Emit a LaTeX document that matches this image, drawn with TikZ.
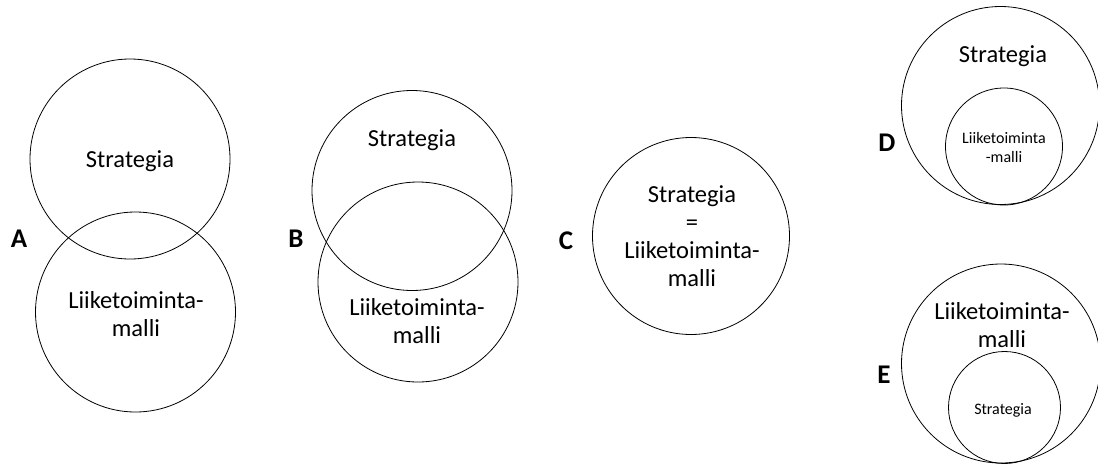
\documentclass[tikz,border=0pt]{standalone}
\usepackage{fontspec}
\setmainfont{Carlito}
\begin{document}
\begin{tikzpicture}[x=1pt,y=-1pt,
  ring/.style={circle, draw=black, line width=0.8pt, inner sep=0pt, minimum size=#1},
  big/.style={font=\fontsize{24.5}{28}\selectfont, align=center, inner sep=0pt},
  small/.style={font=\fontsize{16}{19}\selectfont, align=center, inner sep=0pt},
  tag/.style={font=\fontsize{27}{30}\selectfont\bfseries, inner sep=0pt}]
\useasboundingbox (0,0) rectangle (1098,464);

% A: two circles overlapping slightly
\node[ring=200pt] (a1) at (130,159) {};
\node[ring=200pt] (a2) at (135.5,312) {};
\node[big] (a1t) at (130,161) {Strategia};
\node[big] (a2t) at (136,314) {Liiketoiminta-\\malli};
\node[tag] (la) at (19,239) {A};

% B: two circles overlapping strongly
\node[ring=200pt] (b1) at (412,190.5) {};
\node[ring=200pt] (b2) at (418,282) {};
\node[big] (b1t) at (412,140) {Strategia};
\node[big] (b2t) at (417,321) {Liiketoiminta-\\malli};
\node[tag] (lb) at (296,239) {B};

% C: a single circle
\node[ring=197pt] (c1) at (691,236) {};
\node[big] (c1t) at (692,236) {Strategia\\=\\Liiketoiminta-\\malli};
\node[tag] (lc) at (566,241) {C};

% D: business model inside strategy
\node[ring=198pt] (d1) at (1000.5,105.5) {};
\node[ring=117pt] (d2) at (1004,146.5) {};
\node[big] (d1t) at (1003,56) {Strategia};
\node[small] (d2t) at (1004,147) {Liiketoiminta\\-malli};
\node[tag] (ld) at (887,143) {D};

% E: strategy inside business model
\node[ring=199pt] (e1) at (1001,363.5) {};
\node[ring=112pt] (e2) at (1004.5,407.5) {};
\node[big] (e1t) at (1002,325) {Liiketoiminta-\\malli};
\node[small] (e2t) at (1003,410) {Strategia};
\node[tag] (le) at (884,375) {E};
\end{tikzpicture}
\end{document}
